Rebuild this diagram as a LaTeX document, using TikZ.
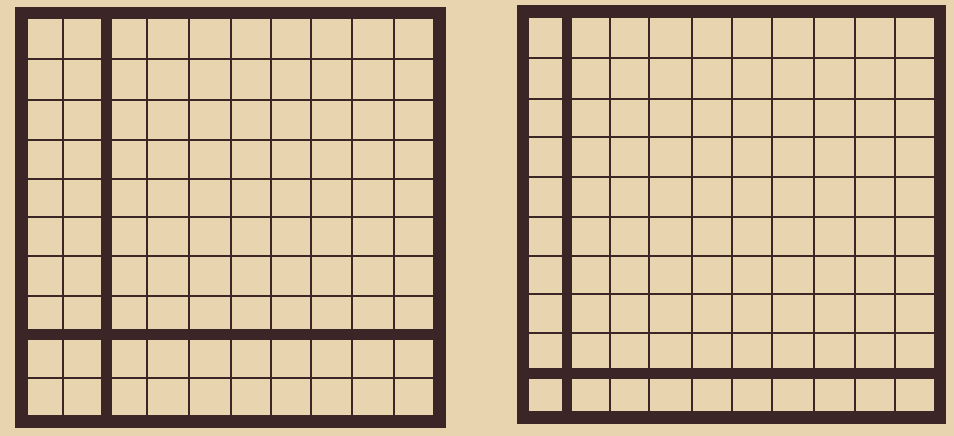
\documentclass[tikz,border=0pt]{standalone}
\definecolor{paper}{HTML}{E9D4B0}
\definecolor{ink}{HTML}{3B2526}
\tikzset{
  thinrule/.style={draw=ink, line width=2.4pt},
  thickrule/.style={draw=ink, line width=11pt},
  frame/.style={draw=ink, line width=12.5pt, line join=miter},
}
\begin{document}
\begin{tikzpicture}[x=1pt,y=-1pt]
\fill[paper] (0,0) rectangle (954,436);
\useasboundingbox (0,0) rectangle (954,436);
% ---------- left square ----------
\foreach \x in {63,147,189,231,271,311,352,394}
  \draw[thinrule] (\x,19) -- (\x,415);
\foreach \y in {59,100,140,179,217,256,296,378}
  \draw[thinrule] (28,\y) -- (433,\y);
\draw[thickrule] (106,19) -- (106,415);
\draw[thickrule] (28,334.5) -- (433,334.5);
\draw[frame] (21.5,13) rectangle (439.5,421.5);
% ---------- right square ----------
\foreach \x in {610,649,692,732,772,814,855,895}
  \draw[thinrule] (\x,18) -- (\x,411);
\foreach \y in {58,99,137,177,217,256,294,333}
  \draw[thinrule] (529,\y) -- (934,\y);
\draw[thickrule, line width=10pt] (567,18) -- (567,411);
\draw[thickrule] (529,373.5) -- (934,373.5);
\draw[frame] (523,11.5) rectangle (940,417.5);
\end{tikzpicture}
\end{document}
